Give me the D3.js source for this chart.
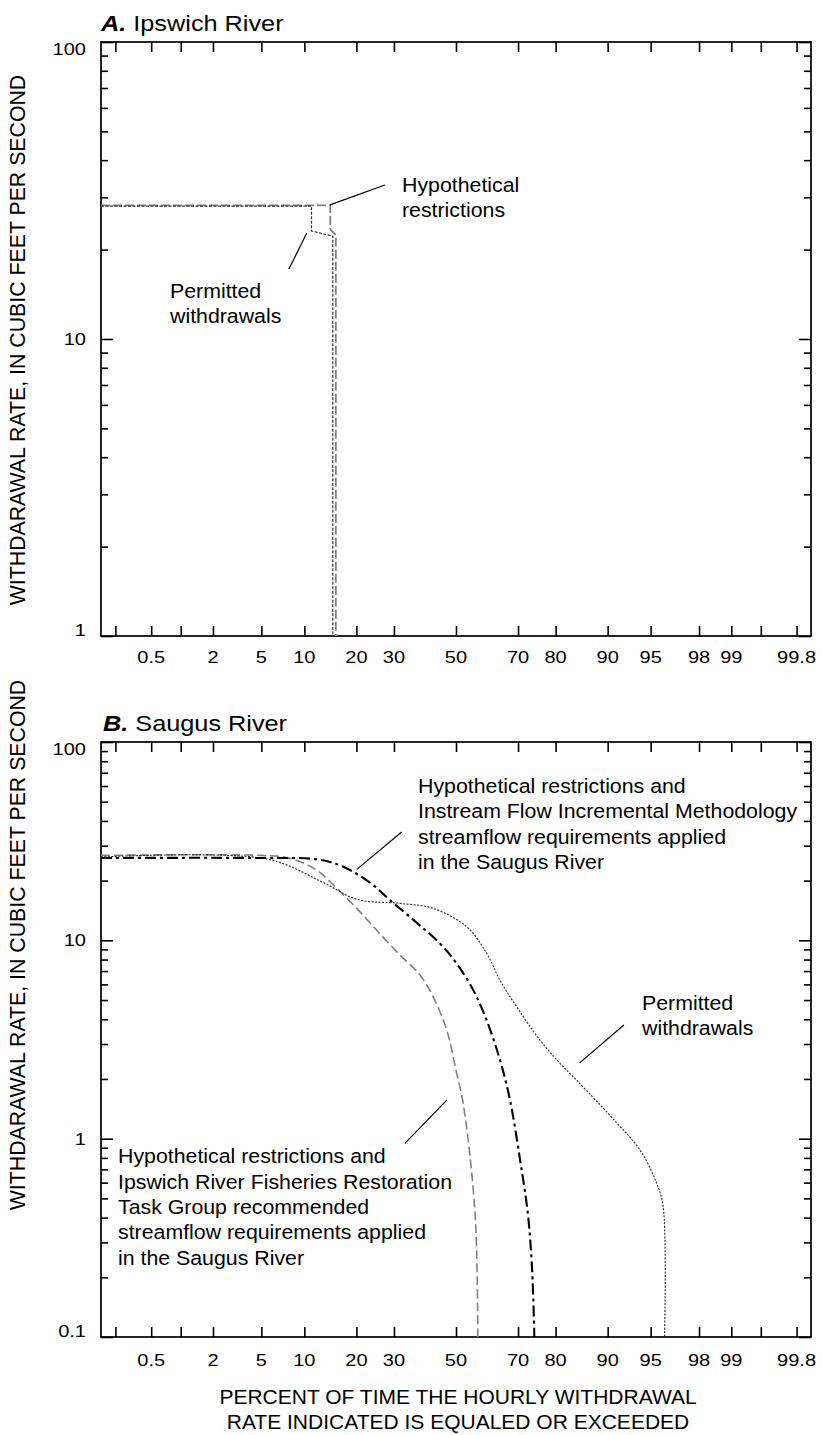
<!DOCTYPE html>
<html>
<head>
<meta charset="utf-8">
<script src="https://cdn.jsdelivr.net/npm/d3@7"></script>
<style>
  body { margin: 0; background: #fff; }
  text { font-family: "Liberation Sans", Arial, sans-serif; fill: #000; }
</style>
</head>
<body>
<div id="chart"></div>
<script>
// DATA //

// probability axis (percent exceedance)
const probTicks = [0.2, 0.5, 1, 2, 5, 10, 20, 30, 50, 70, 80, 90, 95, 98, 99, 99.5, 99.8];
const probLabels = [0.5, 2, 5, 10, 20, 30, 50, 70, 80, 90, 95, 98, 99, 99.8];

// A. Ipswich River  [percent, cfs]
const ipswichPermitted    = [[0.135, 28], [11.1, 28], [11.1, 23.1], [14.9, 22.2], [14.9, 1]];
const ipswichHypothetical = [[0.135, 28.2], [14.4, 28.2], [14.4, 23.4], [15.5, 22.4], [15.5, 1]];

// B. Saugus River  [percent, cfs]
const saugusIFIM = [[0.135, 26.0], [5, 26.0], [11.96, 25.6], [17.05, 23.5], [24.2, 19.0], [28.8, 15.95],
  [34.9, 13.1], [44.6, 9.64], [50.2, 7.65], [55.8, 5.61], [60.2, 3.96], [64.5, 2.49], [67.6, 1.565],
  [70.6, 0.78], [72.8, 0.42], [74.0, 0.218], [74.6, 0.1]];
const saugusFisheries = [[0.135, 26.8], [5, 26.8], [8.03, 25.9], [11.96, 22.6], [15.67, 18.3], [20.07, 14.5],
  [25.14, 11.25], [31.8, 8.42], [38.05, 6.69], [42.4, 5.17], [46.9, 3.52], [50.2, 2.14], [52.4, 1.51],
  [56.4, 0.42], [57.3, 0.1]];
const saugusPermitted = [[0.135, 26.3], [5.48, 25.7], [13.05, 19.6], [20.1, 16.1], [31.8, 15.35],
  [42.3, 14.5], [53.6, 11.7], [60.2, 8.62], [64.5, 6.29], [69.6, 4.62], [76.1, 3.14], [81.0, 2.40],
  [84.6, 1.97], [91.3, 1.20], [94.0, 0.876], [95.5, 0.597], [96.0, 0.454], [96.1, 0.1]];

// leader lines [percent, cfs]
const leadersA = [
  [[27.4, 33.0], [14.35, 28.3]],
  [[7.9, 17.2], [10.35, 22.7]]
];
const leadersB = [
  [[32.3, 35.2], [20.1, 22.8]],
  [[92.2, 3.74], [85.2, 2.41]],
  [[33.3, 0.946], [46.9, 1.565]]
];

// FUNCTIONS //

// inverse normal (Acklam)
function probit(p) {
  const a = [-3.969683028665376e+01, 2.209460984245205e+02, -2.759285104469687e+02, 1.383577518672690e+02, -3.066479806614716e+01, 2.506628277459239e+00];
  const b = [-5.447609879822406e+01, 1.615858368580409e+02, -1.556989798598866e+02, 6.680131188771972e+01, -1.328068155288572e+01];
  const c = [-7.784894002430293e-03, -3.223964580411365e-01, -2.400758277161838e+00, -2.549732539343734e+00, 4.374664141464968e+00, 2.938163982698783e+00];
  const d = [7.784695709041462e-03, 3.224671290700398e-01, 2.445134137142996e+00, 3.754408661907416e+00];
  const pl = 0.02425, ph = 1 - pl;
  let q, r;
  if (p < pl) {
    q = Math.sqrt(-2 * Math.log(p));
    return (((((c[0]*q+c[1])*q+c[2])*q+c[3])*q+c[4])*q+c[5]) / ((((d[0]*q+d[1])*q+d[2])*q+d[3])*q+1);
  }
  if (p <= ph) {
    q = p - 0.5; r = q * q;
    return (((((a[0]*r+a[1])*r+a[2])*r+a[3])*r+a[4])*r+a[5])*q / (((((b[0]*r+b[1])*r+b[2])*r+b[3])*r+b[4])*r+1);
  }
  q = Math.sqrt(-2 * Math.log(1 - p));
  return -(((((c[0]*q+c[1])*q+c[2])*q+c[3])*q+c[4])*q+c[5]) / ((((d[0]*q+d[1])*q+d[2])*q+d[3])*q+1);
}

// stretched text (the reference lettering is wide)
function stext(g, x, y, str, size, sx, anchor) {
  return g.append("text")
    .attr("transform", `translate(${x},${y}) scale(${sx},1)`)
    .attr("font-size", size)
    .attr("text-anchor", anchor || "start")
    .text(str);
}

// DIMENSIONS //

const left = 101, right = 811;
const svg = d3.select("#chart").append("svg")
  .attr("width", 823).attr("height", 1435);

// x scale: normal probability axis
const zScale = d3.scaleLinear().domain([-3, 3]).range([left, right]);
const xScale = p => zScale(probit(p / 100));

function minorTicks(domain) {
  const out = [];
  for (let e = Math.round(Math.log10(domain[0])); e < Math.round(Math.log10(domain[1])); e++)
    for (let m = 2; m <= 9; m++) out.push(m * Math.pow(10, e));
  return out;
}

function drawPanel(cfg) {
  const g = svg.append("g");
  const yScale = d3.scaleLog().domain(cfg.domain).range([cfg.bottom, cfg.top]);
  const majors = cfg.yLabels;

  // title
  const t = g.append("text").attr("x", cfg.titleX).attr("y", cfg.titleY).attr("font-size", 22)
    .attr("transform", `translate(${cfg.titleX},0) scale(1.15,1) translate(${-cfg.titleX},0)`);
  t.append("tspan").attr("font-weight", "bold").attr("font-style", "italic").text(cfg.letter);
  t.append("tspan").text(" " + cfg.name);

  // frame
  g.append("rect")
    .attr("x", left).attr("y", cfg.top)
    .attr("width", right - left).attr("height", cfg.bottom - cfg.top)
    .attr("fill", "none").attr("stroke", "#000").attr("stroke-width", 1.7);

  // x ticks (inward, top and bottom)
  const zt = probTicks.map(p => probit(p / 100));
  g.append("g").attr("transform", `translate(0,${cfg.bottom})`)
    .call(d3.axisBottom(zScale).tickValues(zt).tickSize(-10).tickSizeOuter(0).tickFormat(""));
  g.append("g").attr("transform", `translate(0,${cfg.top})`)
    .call(d3.axisTop(zScale).tickValues(zt).tickSize(-10).tickSizeOuter(0).tickFormat(""));

  // y ticks (inward, left and right)
  const mt = minorTicks(cfg.domain);
  g.append("g").attr("transform", `translate(${left},0)`)
    .call(d3.axisLeft(yScale).tickValues(majors).tickSize(-12).tickSizeOuter(0).tickFormat(""));
  g.append("g").attr("transform", `translate(${left},0)`)
    .call(d3.axisLeft(yScale).tickValues(mt).tickSize(-7).tickSizeOuter(0).tickFormat(""));
  g.append("g").attr("transform", `translate(${right},0)`)
    .call(d3.axisRight(yScale).tickValues(majors).tickSize(-12).tickSizeOuter(0).tickFormat(""));
  g.append("g").attr("transform", `translate(${right},0)`)
    .call(d3.axisRight(yScale).tickValues(mt).tickSize(-7).tickSizeOuter(0).tickFormat(""));
  g.selectAll(".domain").remove();
  g.selectAll(".tick line").attr("stroke", "#000").attr("stroke-width", 1.6);

  // y labels
  majors.forEach(v => {
    const y = Math.max(cfg.top + 7, Math.min(cfg.bottom - 6, yScale(v)));
    stext(g, left - 15, y + 6, String(v), 17, 1.18, "end");
  });

  // x labels
  probLabels.forEach(p => {
    stext(g, xScale(p), cfg.bottom + cfg.xLabelDy, String(p), 17, 1.18, "middle");
  });

  // y title
  g.append("text")
    .attr("transform", `translate(25,${cfg.yTitleY}) rotate(-90)`)
    .attr("text-anchor", "middle").attr("font-size", 21.3)
    .text("WITHDARAWAL RATE, IN CUBIC FEET PER SECOND");

  // clip
  const clipId = "clip" + cfg.letter[0];
  g.append("clipPath").attr("id", clipId).append("rect")
    .attr("x", left).attr("y", cfg.top).attr("width", right - left).attr("height", cfg.bottom - cfg.top);

  const line = d3.line().x(d => xScale(d[0])).y(d => yScale(d[1])).curve(cfg.curve);
  cfg.series.forEach(s => {
    g.append("path").datum(s.data)
      .attr("clip-path", `url(#${clipId})`)
      .attr("d", line)
      .attr("fill", "none")
      .attr("stroke", s.color)
      .attr("stroke-width", s.width)
      .attr("stroke-dasharray", s.dash);
  });

  // leaders
  const straight = d3.line().x(d => xScale(d[0])).y(d => yScale(d[1]));
  cfg.leaders.forEach(l => {
    g.append("path").attr("d", straight(l)).attr("stroke", "#000").attr("stroke-width", 1.2).attr("fill", "none");
  });

  // annotations
  cfg.notes.forEach(n => {
    n.lines.forEach((s, i) => stext(g, n.x, n.y + i * 25.3, s, 20.5, 1.04, "start"));
  });
}

drawPanel({
  letter: "A.", name: "Ipswich River", titleX: 101, titleY: 31,
  top: 42, bottom: 636, domain: [1, 100], yLabels: [1, 10, 100],
  xLabelDy: 27, yTitleY: 340, curve: d3.curveLinear,
  series: [
    { data: ipswichHypothetical, color: "#808080", width: 1.8, dash: "9,3" },
    { data: ipswichPermitted, color: "#333", width: 1.2, dash: "3,1.5" }
  ],
  leaders: leadersA,
  notes: [
    { x: 402, y: 191.7, lines: ["Hypothetical", "restrictions"] },
    { x: 170, y: 297.5, lines: ["Permitted", "withdrawals"] }
  ]
});

drawPanel({
  letter: "B.", name: "Saugus River", titleX: 103, titleY: 731,
  top: 742, bottom: 1337, domain: [0.1, 100], yLabels: [0.1, 1, 10, 100],
  xLabelDy: 29, yTitleY: 945, curve: d3.curveCatmullRom.alpha(0.5),
  series: [
    { data: saugusFisheries, color: "#808080", width: 1.6, dash: "9,4" },
    { data: saugusPermitted, color: "#222", width: 1.1, dash: "2,1.5" },
    { data: saugusIFIM, color: "#000", width: 2.1, dash: "11,4,3,4" }
  ],
  leaders: leadersB,
  notes: [
    { x: 418, y: 793, lines: ["Hypothetical restrictions and", "Instream Flow Incremental Methodology", "streamflow requirements applied", "in the Saugus River"] },
    { x: 642, y: 1010, lines: ["Permitted", "withdrawals"] },
    { x: 118, y: 1163.3, lines: ["Hypothetical restrictions and", "Ipswich River Fisheries Restoration", "Task Group recommended", "streamflow requirements applied", "in the Saugus River"] }
  ]
});

// x axis title
[["PERCENT OF TIME THE HOURLY WITHDRAWAL", 1404], ["RATE INDICATED IS EQUALED OR EXCEEDED", 1429]]
  .forEach(([s, y]) => svg.append("text").attr("x", 458).attr("y", y)
    .attr("text-anchor", "middle").attr("font-size", 21).text(s));
</script>
</body>
</html>
